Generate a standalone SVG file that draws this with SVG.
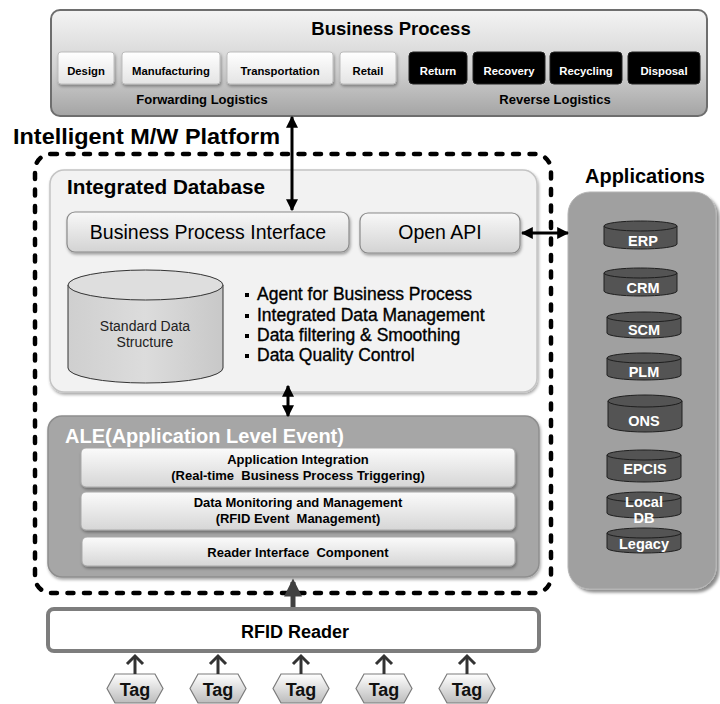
<svg xmlns="http://www.w3.org/2000/svg" width="720" height="704" viewBox="0 0 720 704">
<defs>
<linearGradient id="bpGrad" x1="0" y1="0" x2="0" y2="1"><stop offset="0" stop-color="#f4f4f4"/><stop offset="0.55" stop-color="#d2d2d2"/><stop offset="1" stop-color="#a4a4a4"/></linearGradient>
<linearGradient id="wGrad" x1="0" y1="0" x2="0" y2="1"><stop offset="0" stop-color="#ffffff"/><stop offset="1" stop-color="#e4e4e4"/></linearGradient>
<linearGradient id="btnGrad" x1="0" y1="0" x2="0" y2="1"><stop offset="0" stop-color="#f8f8f8"/><stop offset="1" stop-color="#d3d3d3"/></linearGradient>
<linearGradient id="subGrad" x1="0" y1="0" x2="0" y2="1"><stop offset="0" stop-color="#fbfbfb"/><stop offset="1" stop-color="#d6d6d6"/></linearGradient>
<linearGradient id="tagGrad" x1="0" y1="0" x2="0" y2="1"><stop offset="0" stop-color="#ffffff"/><stop offset="1" stop-color="#bcbcbc"/></linearGradient>
<linearGradient id="cylGrad" x1="0" y1="0" x2="1" y2="0"><stop offset="0" stop-color="#cfcfcf"/><stop offset="0.5" stop-color="#dcdcdc"/><stop offset="1" stop-color="#c8c8c8"/></linearGradient>
<filter id="sh" x="-10%" y="-10%" width="120%" height="130%"><feDropShadow dx="1" dy="2" stdDeviation="1.5" flood-color="#000" flood-opacity="0.35"/></filter>
<filter id="shApp" x="-10%" y="-10%" width="125%" height="120%"><feDropShadow dx="3" dy="3" stdDeviation="1.5" flood-color="#000" flood-opacity="0.45"/></filter>
<marker id="ah" viewBox="0 0 10 10" refX="9" refY="5" markerWidth="4" markerHeight="4" orient="auto-start-reverse"><path d="M0,0 L10,5 L0,10 Z" fill="#000"/></marker>
<marker id="ahThick" viewBox="0 0 10 10" refX="8" refY="5" markerWidth="4" markerHeight="3.6" orient="auto"><path d="M0,0 L10,5 L0,10 Z" fill="#404040"/></marker>
<style>
text{font-family:"Liberation Sans",Arial,sans-serif;}
.b{font-weight:bold;}
.c{text-anchor:middle;}
.wbox{fill:url(#wGrad);stroke:#bcbcbc;stroke-width:1;}
.kbox{fill:#000;stroke:#222;stroke-width:1;}
.btn{fill:url(#btnGrad);stroke:#8a8a8a;stroke-width:1.2;}
.sub{fill:url(#subGrad);stroke:#a8a8a8;stroke-width:1;}
.appc{fill:#545454;stroke:#1e1e1e;stroke-width:1;}
.appt{fill:#fff;font-weight:bold;text-anchor:middle;font-size:14.5px;}
.tag{fill:url(#tagGrad);stroke:#7a7a7a;stroke-width:1.2;}
.tagt{font-weight:bold;font-size:18px;text-anchor:middle;fill:#111;}
.tarr{stroke:#333;stroke-width:3;fill:none;}
.dbl{stroke:#000;stroke-width:3;fill:none;marker-start:url(#ah);marker-end:url(#ah);}
.feat{stroke:#000;stroke-width:0.35;}
</style>
</defs>
<rect width="720" height="704" fill="#fff"/>

<g id="business-process">
<rect x="51" y="10" width="656" height="106" rx="9" fill="url(#bpGrad)" stroke="#6e6e6e" stroke-width="2"/>
<text x="391" y="35" class="b c" font-size="18.5">Business Process</text>
<rect x="58" y="52" width="56" height="32" rx="3" class="wbox" filter="url(#sh)"/>
<text x="86" y="75" class="b c" font-size="11.3">Design</text>
<rect x="122" y="52" width="98" height="32" rx="3" class="wbox" filter="url(#sh)"/>
<text x="171" y="75" class="b c" font-size="11.3">Manufacturing</text>
<rect x="227" y="52" width="106" height="32" rx="3" class="wbox" filter="url(#sh)"/>
<text x="280" y="75" class="b c" font-size="11.3">Transportation</text>
<rect x="340" y="52" width="56" height="32" rx="3" class="wbox" filter="url(#sh)"/>
<text x="368" y="75" class="b c" font-size="11.3">Retail</text>
<rect x="409" y="52" width="58" height="32" rx="4" class="kbox"/>
<text x="438" y="75" class="b c" font-size="11.3" fill="#fff">Return</text>
<rect x="473" y="52" width="72" height="32" rx="4" class="kbox"/>
<text x="509" y="75" class="b c" font-size="11.3" fill="#fff">Recovery</text>
<rect x="550" y="52" width="72" height="32" rx="4" class="kbox"/>
<text x="586" y="75" class="b c" font-size="11.3" fill="#fff">Recycling</text>
<rect x="628" y="52" width="72" height="32" rx="4" class="kbox"/>
<text x="664" y="75" class="b c" font-size="11.3" fill="#fff">Disposal</text>
<text x="202" y="104" class="b c" font-size="13">Forwarding Logistics</text>
<text x="555" y="104" class="b c" font-size="13">Reverse Logistics</text>
</g>

<g id="platform">
<text x="13" y="144" class="b" font-size="22" textLength="267" lengthAdjust="spacingAndGlyphs">Intelligent M/W Platform</text>
<rect x="35" y="154" width="516" height="439" rx="16" fill="none" stroke="#000" stroke-width="4.5" stroke-dasharray="6 10.5" stroke-linecap="round"/>
</g>

<g id="integrated-database">
<rect x="50" y="170" width="487" height="222" rx="14" fill="#f2f2f2" stroke="#c4c4c4" stroke-width="1.5" filter="url(#sh)"/>
<text x="67" y="194" class="b" font-size="19.5" textLength="198" lengthAdjust="spacingAndGlyphs">Integrated Database</text>
</g>

<g id="bp-interface">
<rect x="67" y="212" width="282" height="40" rx="8" class="btn" filter="url(#sh)"/>
<text x="208" y="239" class="c" font-size="19.5">Business Process Interface</text>
</g>

<g id="open-api">
<rect x="360" y="213" width="160" height="40" rx="8" class="btn" filter="url(#sh)"/>
<text x="440" y="239" class="c" font-size="19.5">Open API</text>
</g>

<g id="standard-data">
<path d="M68,285 V368 A77.5,15 0 0 0 223,368 V285" fill="url(#cylGrad)" stroke="#333" stroke-width="1"/>
<ellipse cx="145.5" cy="285" rx="77.5" ry="15" fill="#dedede" stroke="#333" stroke-width="1"/>
<text x="145" y="331" class="c" font-size="14" fill="#222">Standard Data</text>
<text x="145" y="347" class="c" font-size="14" fill="#222">Structure</text>
</g>

<g id="features" font-size="17.5" fill="#000">
<rect x="245" y="293" width="4" height="4"/><text x="257" y="300" class="feat">Agent for Business Process</text>
<rect x="245" y="314" width="4" height="4"/><text x="257" y="321" class="feat">Integrated Data Management</text>
<rect x="245" y="334" width="4" height="4"/><text x="257" y="341" class="feat">Data filtering &amp; Smoothing</text>
<rect x="245" y="354" width="4" height="4"/><text x="257" y="361" class="feat">Data Quality Control</text>
</g>

<g id="ale">
<rect x="48" y="416" width="491" height="161" rx="14" fill="#a6a6a6" stroke="#8e8e8e" stroke-width="1.5" filter="url(#sh)"/>
<text x="65" y="443" class="b" font-size="20" fill="#fff">ALE(Application Level Event)</text>
</g>

<g id="app-integration">
<rect x="81" y="448" width="434" height="39" rx="5" class="sub" filter="url(#sh)"/>
<text x="298" y="464" class="b c" font-size="13">Application Integration</text>
<text x="298" y="480" class="b c" font-size="13" xml:space="preserve">(Real-time  Business Process Triggering)</text>
</g>

<g id="data-monitoring">
<rect x="81" y="492" width="434" height="38" rx="5" class="sub" filter="url(#sh)"/>
<text x="298" y="507" class="b c" font-size="13">Data Monitoring and Management</text>
<text x="298" y="523" class="b c" font-size="13" xml:space="preserve">(RFID Event  Management)</text>
</g>

<g id="reader-interface">
<rect x="82" y="537" width="433" height="29" rx="5" class="sub" filter="url(#sh)"/>
<text x="298" y="557" class="b c" font-size="13" xml:space="preserve">Reader Interface  Component</text>
</g>

<g id="applications">
<text x="645" y="183" class="b c" font-size="20">Applications</text>
<rect x="568" y="192" width="148" height="397" rx="22" fill="#a0a0a0" stroke="#b4b4b4" stroke-width="1" filter="url(#shApp)"/>
</g>

<g id="erp">
<path d="M604,226 V244 A36.5,5 0 0 0 677,244 V226" class="appc"/><ellipse cx="640.5" cy="226" rx="36.5" ry="5" class="appc"/>
<text x="643" y="246" class="appt">ERP</text>
</g>
<g id="crm">
<path d="M604,273 V291 A36.5,5 0 0 0 677,291 V273" class="appc"/><ellipse cx="640.5" cy="273" rx="36.5" ry="5" class="appc"/>
<text x="643" y="293" class="appt">CRM</text>
</g>
<g id="scm">
<path d="M607,317 V333 A37,5 0 0 0 681,333 V317" class="appc"/><ellipse cx="644" cy="317" rx="37" ry="5" class="appc"/>
<text x="644" y="335" class="appt">SCM</text>
</g>
<g id="plm">
<path d="M607,358 V375 A37,5 0 0 0 681,375 V358" class="appc"/><ellipse cx="644" cy="358" rx="37" ry="5" class="appc"/>
<text x="644" y="377" class="appt">PLM</text>
</g>
<g id="ons">
<path d="M608,401 V426 A37,6 0 0 0 682,426 V401" class="appc"/><ellipse cx="645" cy="401" rx="37" ry="6" class="appc"/>
<text x="644" y="426" class="appt">ONS</text>
</g>
<g id="epcis">
<path d="M607,455 V477 A37,5 0 0 0 681,477 V455" class="appc"/><ellipse cx="644" cy="455" rx="37" ry="5" class="appc"/>
<text x="645" y="474" class="appt" font-size="14">EPCIS</text>
</g>
<g id="local-db">
<path d="M607,497 V513 A37,5 0 0 0 681,513 V497" class="appc"/><ellipse cx="644" cy="497" rx="37" ry="5" class="appc"/>
<text x="644" y="507" class="appt">Local</text>
<text x="644" y="523" class="appt">DB</text>
</g>
<g id="legacy">
<path d="M607,533 V548 A37,5 0 0 0 681,548 V533" class="appc"/><ellipse cx="644" cy="533" rx="37" ry="5" class="appc"/>
<text x="644" y="549" class="appt" font-size="11.5">Legacy</text>
</g>

<g id="rfid-reader">
<rect x="48" y="609" width="491" height="42" rx="6" fill="#fff" stroke="#7d7d7d" stroke-width="4"/>
<text x="295" y="638" class="b c" font-size="18">RFID Reader</text>
</g>

<g id="tag1"><polygon points="107,688.5 115,674 155,674 163,688.5 155,703 115,703" class="tag"/><text x="135" y="696" class="tagt">Tag</text></g>
<g id="tag2"><polygon points="190,688.5 198,674 238,674 246,688.5 238,703 198,703" class="tag"/><text x="218" y="696" class="tagt">Tag</text></g>
<g id="tag3"><polygon points="273,688.5 281,674 321,674 329,688.5 321,703 281,703" class="tag"/><text x="301" y="696" class="tagt">Tag</text></g>
<g id="tag4"><polygon points="356,688.5 364,674 404,674 412,688.5 404,703 364,703" class="tag"/><text x="384" y="696" class="tagt">Tag</text></g>
<g id="tag5"><polygon points="439,688.5 447,674 487,674 495,688.5 487,703 447,703" class="tag"/><text x="467" y="696" class="tagt">Tag</text></g>

<g id="connectors">
<line x1="292" y1="117" x2="292" y2="210" class="dbl"/>
<line x1="522" y1="233" x2="568" y2="233" class="dbl"/>
<line x1="288" y1="386" x2="288" y2="416" class="dbl"/>
<line x1="293" y1="607" x2="293" y2="582" stroke="#404040" stroke-width="5" marker-end="url(#ahThick)"/>
<g class="tarr">
<line x1="135" y1="674" x2="135" y2="657"/><polyline points="127,664 135,656 143,664"/>
<line x1="218" y1="674" x2="218" y2="657"/><polyline points="210,664 218,656 226,664"/>
<line x1="301" y1="674" x2="301" y2="657"/><polyline points="293,664 301,656 309,664"/>
<line x1="384" y1="674" x2="384" y2="657"/><polyline points="376,664 384,656 392,664"/>
<line x1="467" y1="674" x2="467" y2="657"/><polyline points="459,664 467,656 475,664"/>
</g>
</g>
</svg>
